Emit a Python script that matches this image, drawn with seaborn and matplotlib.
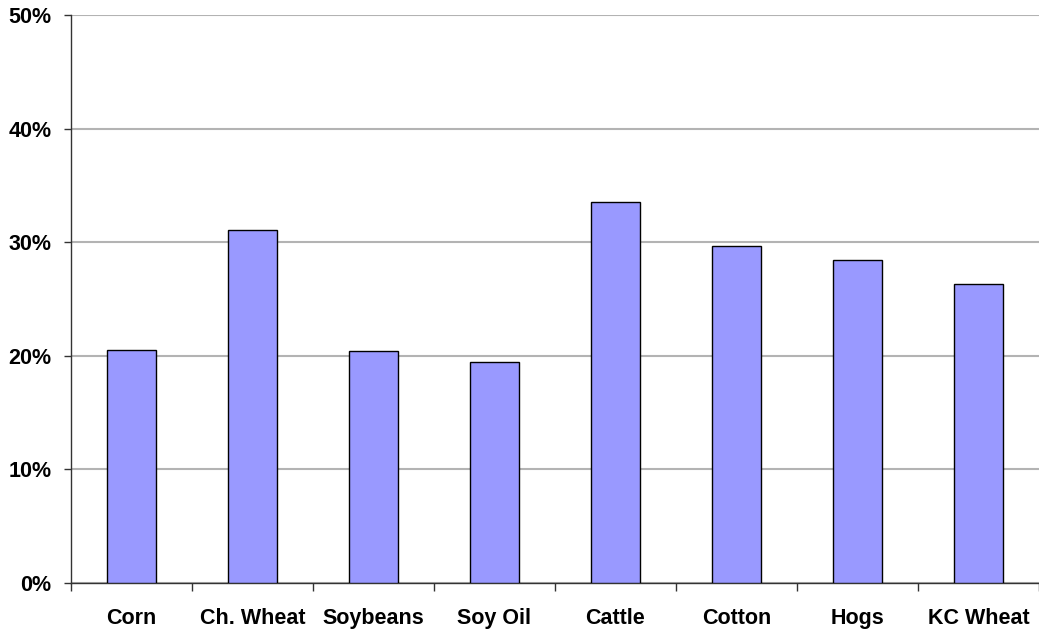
import numpy as np
import pandas as pd
import seaborn as sns
from matplotlib import pyplot as plt
from matplotlib.ticker import FixedLocator, PercentFormatter

# Values (percent)
commodities = ["Corn", "Ch. Wheat", "Soybeans", "Soy Oil", "Cattle", "Cotton", "Hogs", "KC Wheat"]
values = [20.5, 31.1, 20.4, 19.5, 33.5, 29.7, 28.4, 26.3]
y_ticks = [0, 10, 20, 30, 40, 50]

df = pd.DataFrame({"commodity": commodities, "pct": values})

sns.set_style("white")
plt.rcParams["font.family"] = ["Liberation Sans", "DejaVu Sans"]

fig = plt.figure(figsize=(10.39, 6.32), dpi=100)
ax = fig.add_axes([0.0683, 0.0775, 0.9317, 0.8987])

sns.barplot(
    data=df, x="commodity", y="pct", order=commodities,
    color="#9999FF", saturation=1, width=0.4,
    edgecolor="black", linewidth=1.0, ax=ax, zorder=3,
)

ax.set_ylim(0, 50)
ax.set_xlim(-0.5, len(commodities) - 0.5)
ax.set_yticks(y_ticks)
ax.yaxis.set_major_formatter(PercentFormatter(decimals=0))
ax.yaxis.grid(True, color="#b3b3b3", linewidth=1.5, zorder=0)
ax.set_axisbelow(True)

ax.set_xlabel("")
ax.set_ylabel("")

for side in ["top", "right"]:
    ax.spines[side].set_visible(False)
for side in ["left", "bottom"]:
    ax.spines[side].set_color("#333333")
    ax.spines[side].set_linewidth(1.0)

# ticks between categories, labels at centers
ax.xaxis.set_minor_locator(FixedLocator(np.arange(-0.5, len(commodities) + 0.5, 1)))
ax.tick_params(axis="x", which="major", length=0, pad=18, labelsize=15.5, labelcolor="black")
ax.tick_params(axis="x", which="minor", length=6, width=1, color="#333333", bottom=True)
ax.tick_params(axis="y", which="major", length=5, width=1, color="#333333", left=True,
               pad=9, labelsize=15.5, labelcolor="black")
for lbl in ax.get_xticklabels() + ax.get_yticklabels():
    lbl.set_fontweight("bold")

fig.savefig("out.png", dpi=100)
